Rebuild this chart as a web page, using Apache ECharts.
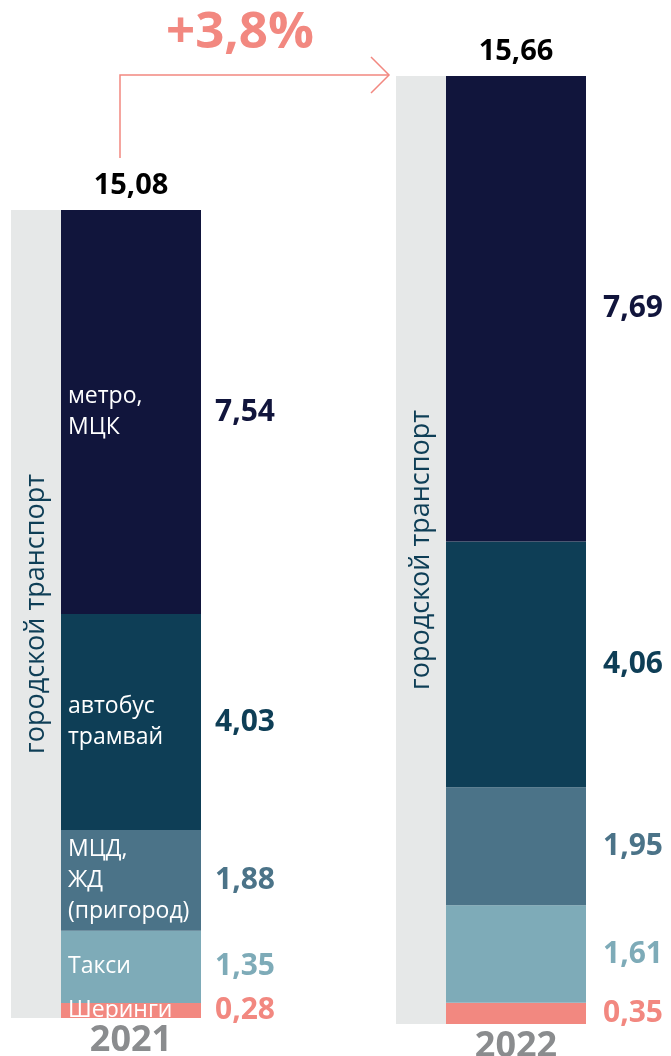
<!DOCTYPE html>
<html>
<head>
<meta charset="utf-8">
<script src="https://cdn.jsdelivr.net/npm/echarts@6/dist/echarts.min.js"></script>
<style>
  html, body { margin: 0; padding: 0; background: #fff; }
  #chart { width: 671px; height: 1056px; }
</style>
</head>
<body>
<div id="chart"></div>
<script>
// данные снизу вверх
var years = ['2021', '2022'];
var segNames = ['Шеринги', 'Такси', 'МЦД,\nЖД\n(пригород)', 'автобус\nтрамвай', 'метро,\nМЦК'];
var values2021 = [0.28, 1.35, 1.88, 4.03, 7.54];
var values2022 = [0.35, 1.61, 1.95, 4.06, 7.69];
var totals = [15.08, 15.66];
var stripLabel = 'городской транспорт';
var growthLabel = '+3,8%';

var colors = ['#f28880', '#7eabb8', '#4b7388', '#0e3e56', '#11153c'];
var font = 'Open Sans';

function fmt(v) { return v.toFixed(2).replace('.', ','); }

var allValues = [values2021, values2022];
var series = [];

for (var g = 0; g < years.length; g++) {
    var vals = allValues[g];
    // серая полоса
    series.push({
        type: 'bar', xAxisIndex: g, yAxisIndex: g, stack: 'strip' + g,
        barWidth: 50, barGap: 0,
        data: [totals[g]],
        itemStyle: { color: '#e6e8e8' },
        label: {
            show: true, position: 'inside', rotate: 90,
            formatter: stripLabel, color: '#0e3e56',
            fontFamily: font, fontSize: 27
        }
    });
    // подпись года (нулевой столбец внизу)
    series.push({
        type: 'bar', xAxisIndex: g, yAxisIndex: g, stack: 'main' + g,
        barWidth: 140, barGap: 0,
        data: [0],
        itemStyle: { color: 'transparent' },
        label: {
            show: true, position: 'bottom', distance: 5,
            formatter: years[g], color: '#8a8c8e',
            fontFamily: font, fontWeight: 'bold', fontSize: 36
        }
    });
    for (let i = 0; i < vals.length; i++) {
        series.push({
            type: 'bar', xAxisIndex: g, yAxisIndex: g, stack: 'main' + g,
            barWidth: 140, barGap: 0,
            data: [vals[i]],
            itemStyle: { color: colors[i] },
            label: {
                show: g == 0, position: 'insideLeft', distance: 7,
                formatter: segNames[i], color: '#fff',
                fontFamily: font, fontSize: 23, lineHeight: 31
            }
        });
    }
    // итог сверху
    series.push({
        type: 'bar', xAxisIndex: g, yAxisIndex: g, stack: 'main' + g,
        barWidth: 140, barGap: 0,
        data: [0],
        itemStyle: { color: 'transparent' },
        label: {
            show: true, position: 'top', distance: 10,
            formatter: fmt(totals[g]), color: '#000',
            fontFamily: font, fontWeight: 'bold', fontSize: 29
        }
    });
    // колонка значений справа
    for (let i = 0; i < vals.length; i++) {
        series.push({
            type: 'bar', xAxisIndex: g, yAxisIndex: g, stack: 'val' + g,
            barWidth: 70, barGap: 0,
            data: [vals[i]],
            itemStyle: { color: 'transparent' },
            label: {
                show: true, position: 'insideLeft', distance: 14 + g * 3,
                formatter: fmt(vals[i]), color: colors[i],
                fontFamily: font, fontWeight: 'bold', fontSize: 30
            }
        });
    }
}

var chart = echarts.init(document.getElementById('chart'));
chart.setOption({
    animation: false,
    grid: [
        { left: 11, width: 260, top: 210, bottom: 38 },
        { left: 396, width: 260, top: 76, bottom: 32 }
    ],
    xAxis: [
        { type: 'category', gridIndex: 0, data: [years[0]], show: false },
        { type: 'category', gridIndex: 1, data: [years[1]], show: false }
    ],
    yAxis: [
        { type: 'value', gridIndex: 0, min: 0, max: totals[0], show: false },
        { type: 'value', gridIndex: 1, min: 0, max: totals[1], show: false }
    ],
    graphic: [
        {
            type: 'polyline',
            shape: { points: [[120, 158], [120, 75], [389, 75]] },
            style: { stroke: '#f28880', lineWidth: 1.5, fill: null }
        },
        {
            type: 'polyline',
            shape: { points: [[371, 57], [389, 75], [371, 93]] },
            style: { stroke: '#f28880', lineWidth: 1.5, fill: null }
        },
        {
            type: 'text', left: 166, top: 8,
            style: {
                text: growthLabel, fill: '#f28880',
                font: 'bold 51px "Open Sans"'
            }
        }
    ],
    series: series
});
</script>
</body>
</html>
